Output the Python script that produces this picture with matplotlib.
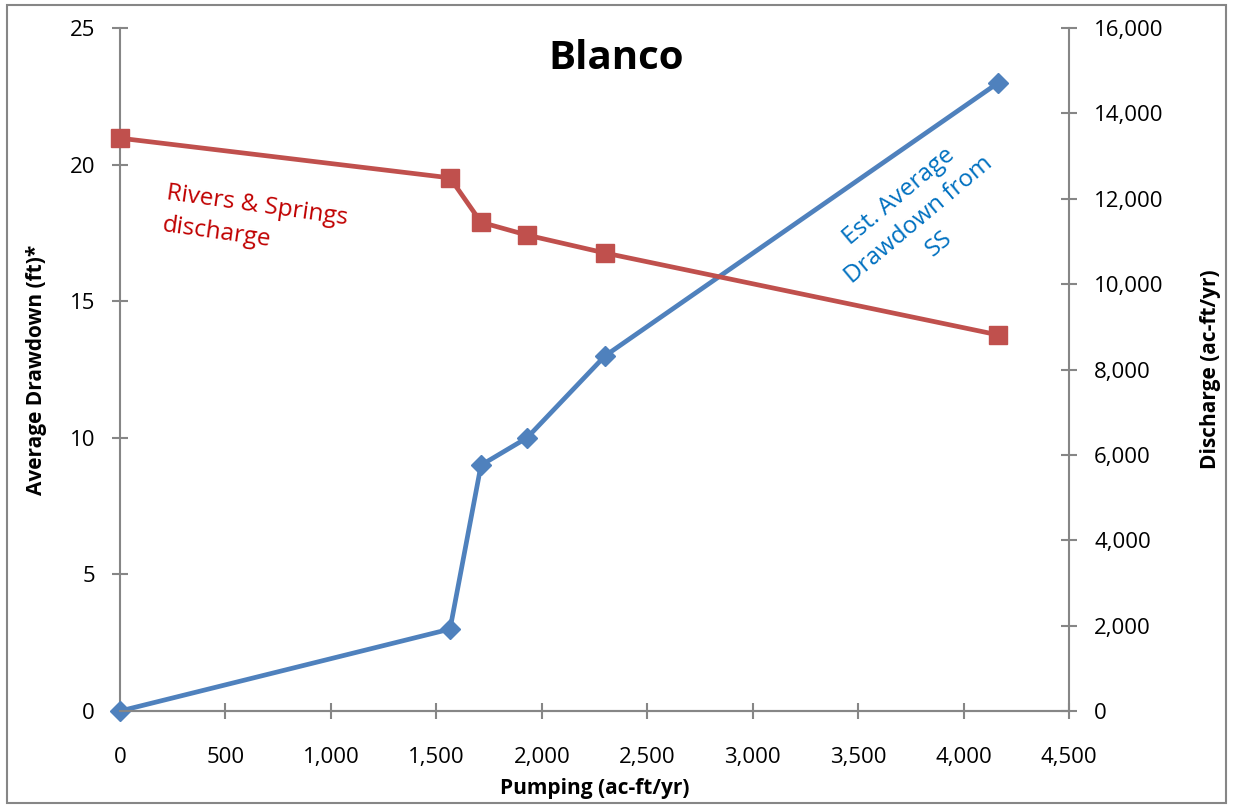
import matplotlib.pyplot as plt
from matplotlib.ticker import FuncFormatter, MultipleLocator
from matplotlib.patches import Rectangle

# data
pumping = [0, 1565, 1712, 1930, 2300, 4165]
drawdown = [0, 3, 9, 10, 13, 23]
discharge = [13420, 12490, 11450, 11150, 10730, 8810]

plt.rcParams['font.family'] = ['Open Sans', 'DejaVu Sans']

blue = '#4F81BD'
red = '#C0504D'
grey = '#868686'

fig = plt.figure(figsize=(12.33, 8.08), dpi=100)
ax = fig.add_axes([0.0973, 0.120, 0.7697, 0.8453])
ax2 = ax.twinx()

ax.plot(pumping, drawdown, color=blue, lw=3.4, marker='D', ms=10.5, zorder=3, clip_on=False)
ax2.plot(pumping, discharge, color=red, lw=3.4, marker='s', ms=13, zorder=3, clip_on=False)

ax.set_xlim(0, 4500)
ax.set_ylim(0, 25)
ax2.set_ylim(0, 16000)
ax.xaxis.set_major_locator(MultipleLocator(500))
ax.yaxis.set_major_locator(MultipleLocator(5))
ax2.yaxis.set_major_locator(MultipleLocator(2000))
comma = FuncFormatter(lambda v, p: f'{int(v):,}')
ax.xaxis.set_major_formatter(comma)
ax2.yaxis.set_major_formatter(comma)

for a in (ax, ax2):
    a.spines['top'].set_visible(False)
    for s in ('left', 'bottom', 'right'):
        a.spines[s].set_color(grey)
        a.spines[s].set_linewidth(1.5)
    a.tick_params(colors=grey, labelcolor='black', labelsize=16, width=1.5, length=12, direction='inout')
ax.tick_params(axis='x', pad=20)
ax.tick_params(axis='y', pad=12)
ax2.tick_params(axis='y', pad=12)
ax2.spines['left'].set_visible(False)
ax.spines['right'].set_visible(False)

ax.set_xlabel('Pumping (ac-ft/yr)', fontsize=15, fontweight='bold', labelpad=7)
ax.set_ylabel('Average Drawdown (ft)*', fontsize=15, fontweight='bold', labelpad=16)
ax2.set_ylabel('Discharge (ac-ft/yr)', fontsize=15, fontweight='bold', labelpad=26)

fig.text(0.5, 0.927, 'Blanco', fontsize=29, fontweight='bold', ha='center', va='center')
ax.text(0.142, 0.716, 'Rivers & Springs\ndischarge', transform=ax.transAxes, color='#C00000',
        fontsize=17.5, rotation=-8, ha='center', va='center', multialignment='left',
        linespacing=1.45, rotation_mode='anchor')
ax.text(0.842, 0.719, 'Est. Average\nDrawdown from\nSS', transform=ax.transAxes, color='#0070C0',
        fontsize=17.5, rotation=40, ha='center', va='center', linespacing=1.4,
        rotation_mode='anchor')

fig.patches.append(Rectangle((0.006, 0.006), 0.988, 0.988, transform=fig.transFigure,
                             fill=False, edgecolor=grey, lw=1.5))

fig.savefig('out.png', dpi=100)
